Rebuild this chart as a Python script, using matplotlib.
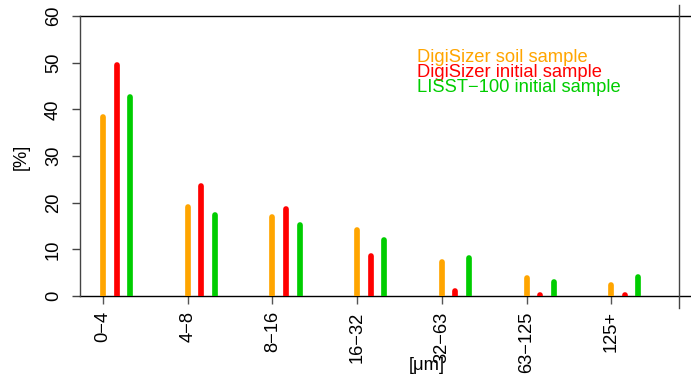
import matplotlib
matplotlib.use("Agg")
import matplotlib.pyplot as plt
import numpy as np

plt.rcParams['font.family'] = ['Liberation Sans', 'DejaVu Sans']

# grain size classes and shares in percent
classes = ["0\u22124", "4\u22128", "8\u221216", "16\u221232", "32\u221263", "63\u2212125", "125+"]
soil_digisizer = [38.4, 19.1, 17.0, 14.2, 7.3, 3.8, 2.3]
initial_digisizer = [49.5, 23.6, 18.6, 8.6, 1.1, 0.3, 0.3]
initial_lisst = [42.6, 17.4, 15.2, 12.0, 8.1, 3.0, 4.0]

series = [
    ("DigiSizer soil sample", soil_digisizer, "#FFA500"),
    ("DigiSizer initial sample", initial_digisizer, "#FF0000"),
    ("LISST\u2212100 initial sample", initial_lisst, "#00CD00"),
]

FS = 13.2

W, H = 691, 379
fig = plt.figure(figsize=(W / 100, H / 100), dpi=100)
ax = fig.add_axes([80 / W, (H - 296) / H, (W - 80) / W, 280 / H])

x = np.arange(len(classes))
offsets = [0.0, 0.16, 0.32]
for (name, vals, col), off in zip(series, offsets):
    ax.vlines(x + off, 0, vals, colors=col, linewidth=4.1,
              capstyle='round', zorder=3)

ax.set_xlim(-0.272, 6.942)
ax.set_ylim(0, 60)

for s in ['top', 'right', 'bottom']:
    ax.spines[s].set_visible(False)
ax.spines['left'].set_color('#444444')
ax.spines['left'].set_linewidth(1.0)

# frame lines at 0 and 60, plus the stray vertical line on the right
ax.axhline(0, color='black', linewidth=1.0, clip_on=False, zorder=2)
ax.axhline(60, color='black', linewidth=1.0, clip_on=False, zorder=2)
ax.plot([6.80, 6.80], [-2.6, 62.4], color='#444444', linewidth=1.0,
        clip_on=False)

ax.set_yticks([0, 10, 20, 30, 40, 50, 60])
ax.set_yticklabels(['0', '10', '20', '30', '40', '50', '60'],
                   rotation=90, va='center', fontsize=FS)
ax.tick_params(axis='y', length=6, width=1.0, color='#444444', pad=7)

ax.set_xticks(x)
ax.set_xticklabels(classes, rotation=90, fontsize=FS)
ax.tick_params(axis='x', length=6, width=1.0, color='#555555', pad=5)

fig.text(21 / W, 1 - 157 / H, "[%]", rotation=90, ha='center', va='center',
         fontsize=FS)
fig.text(427 / W, 1 - 366 / H, "[\u03bcm]", ha='center', va='center',
         fontsize=FS)

legend_y = [57, 72.5, 88]
for (name, vals, col), yy in zip(series, legend_y):
    fig.text(417 / W, 1 - yy / H, name, color=col, ha='left', va='center',
             fontsize=FS)

fig.savefig("out.png", dpi=100)
